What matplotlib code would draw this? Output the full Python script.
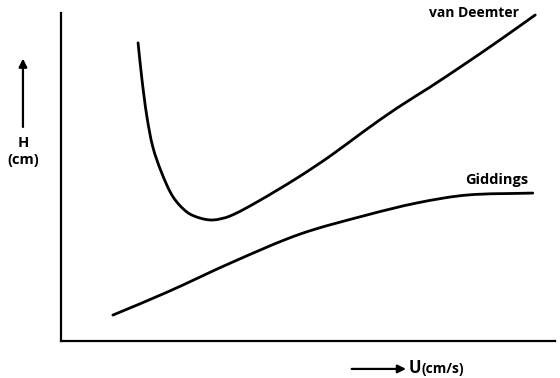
import matplotlib
matplotlib.use("Agg")
import matplotlib.pyplot as plt
import numpy as np
from matplotlib.patches import PathPatch
from matplotlib.path import Path

# plate height H vs linear velocity u, arbitrary units (0-100 on both axes)
van_deemter_u = [15.6, 16.4, 17.4, 18.6, 20.4, 22.7, 25.5, 28.1, 30.8,
                 34.2, 39.7, 47.8, 54.5, 61.1, 68.0, 74.7, 81.4, 88.3, 96.0]
van_deemter_h = [90.9, 79.6, 68.3, 59.1, 51.2, 43.9, 39.3, 37.5, 36.9,
                 38.1, 42.4, 49.7, 56.4, 63.7, 71.0, 77.4, 84.1, 91.2, 99.4]

giddings_u = [10.5, 21.5, 34.8, 48.4, 61.9, 72.1, 82.2, 95.5]
giddings_h = [7.9, 14.9, 24.1, 32.6, 38.4, 42.1, 44.5, 45.1]

plt.rcParams["font.family"] = ["Open Sans", "DejaVu Sans"]

# axes box in pixels, used to weight chord lengths on screen
AX_W, AX_H = 494, 328


def smooth_path(xs, ys):
    """Chord-length spline through the points, as cubic Bezier segments."""
    p = np.column_stack([xs, ys]).astype(float)
    scale = np.array([AX_W / 100, AX_H / 100])
    d = np.linalg.norm(np.diff(p * scale, axis=0), axis=1)
    n = len(p)
    tang = np.zeros_like(p)
    for i in range(n):
        if i == 0:
            tang[i] = (p[1] - p[0]) / d[0]
        elif i == n - 1:
            tang[i] = (p[-1] - p[-2]) / d[-1]
        else:
            tang[i] = (p[i + 1] - p[i - 1]) / (d[i - 1] + d[i])
    verts = [tuple(p[0])]
    codes = [Path.MOVETO]
    for i in range(n - 1):
        c1 = p[i] + tang[i] * d[i] / 3
        c2 = p[i + 1] - tang[i + 1] * d[i] / 3
        verts += [tuple(c1), tuple(c2), tuple(p[i + 1])]
        codes += [Path.CURVE4] * 3
    return Path(verts, codes)


fig = plt.figure(figsize=(5.6, 3.78), dpi=100)
ax = fig.add_axes([61 / 560, 37 / 378, AX_W / 560, AX_H / 378])

for xs, ys in ((van_deemter_u, van_deemter_h), (giddings_u, giddings_h)):
    ax.add_patch(PathPatch(smooth_path(xs, ys), facecolor="none", edgecolor="black",
                           linewidth=2.0, capstyle="round", joinstyle="round"))

ax.set_xlim(0, 100)
ax.set_ylim(0, 100)
for side in ("top", "right"):
    ax.spines[side].set_visible(False)
for side in ("left", "bottom"):
    ax.spines[side].set_linewidth(1.6)
ax.set_xticks([])
ax.set_yticks([])

ax.text(83.6, 100, "van Deemter", ha="center", va="center", fontsize=10,
        fontweight="bold", clip_on=False)
ax.text(88.1, 49.1, "Giddings", ha="center", va="center", fontsize=10.5,
        fontweight="bold")

# axis captions with arrows
fig.add_artist(plt.Annotation("", xy=(0.041, 0.845), xytext=(0.041, 0.664),
                              xycoords="figure fraction", textcoords="figure fraction",
                              arrowprops=dict(arrowstyle="-|>", color="black", lw=1.6,
                                              mutation_scale=12, shrinkA=0, shrinkB=0)))
fig.text(0.041, 0.622, "H", ha="center", va="center", fontsize=10.5, fontweight="bold")
fig.text(0.041, 0.577, "(cm)", ha="center", va="center", fontsize=10.5, fontweight="bold")

fig.add_artist(plt.Annotation("", xy=(0.725, 0.024), xytext=(0.628, 0.024),
                              xycoords="figure fraction", textcoords="figure fraction",
                              arrowprops=dict(arrowstyle="-|>", color="black", lw=1.6,
                                              mutation_scale=12, shrinkA=0, shrinkB=0)))
fig.text(0.729, 0.026, "U", ha="left", va="center", fontsize=12, fontweight="bold")
fig.text(0.752, 0.025, "(cm/s)", ha="left", va="center", fontsize=10, fontweight="bold")

fig.savefig("out.png", dpi=100)
